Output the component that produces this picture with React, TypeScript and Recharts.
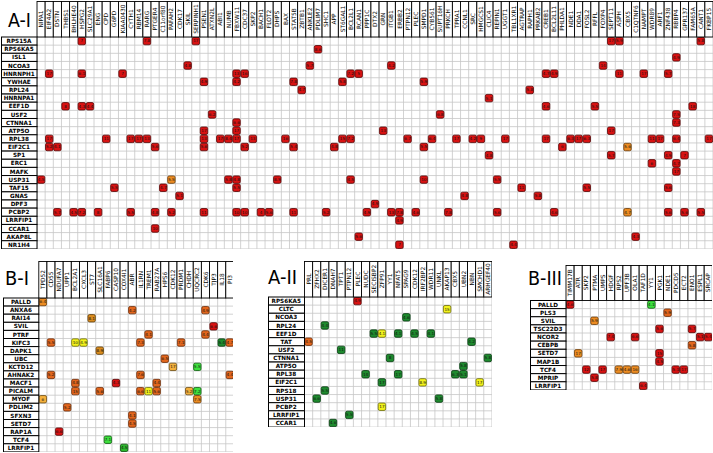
import React from "react";
import { ScatterChart, Scatter, XAxis, YAxis, ReferenceLine } from "recharts";

const FONT = "'DejaVu Sans', sans-serif";

// ---------- A-I ----------
const aiCols = ["NIPA1","EIF4A2","DSTN","THBS1","BHLHE40","HSPG2","SLC29A1","ENG","CPD","G6PD","KIAA0430","CYTH1","RBM14","RARG","PTGER4","C11orf80","PAFAH2","CDK17","SKIL","SERPINH1","PSEN1","ATXN2L","ABI1","NUMB","FBXW11","CDC37","SKP2","BACH1","FLOT2","DHPS","BAX","STAT5B","ZBTB1","ANKLE2","PDLIM7","SHC1","APP","ST6GAL1","BCL2L1","RCAN1","PPP1C","DTX2","GRN","ITGB1","ERBB2","PTPN12","PLEC","SMPD1","CYB561","SUPT16H","PRKCH","TPRA1","CCNL1","SRC","HMGCS1","CLIC4","REPIN1","UGGT1","TBL1XR1","AGTRAP","RAPH1","PRKAB2","CREB1","BCL2L11","PHLDA1","NDE1","DDA1","FOSL2","RFFL","FOXP4","SEPT11","ASPH","CBX5","C1QTNF6","NAMPT","WDR89","ARF1","ZNF438","RBBP4","GPR137","FAM65A","CANT1","FKBP15"];
const aiRows = ["RPS15A","RPS6KA5","ISL1","NCOA3","HNRNPH1","YWHAE","RPL24","HNRNPA1","EEF1D","USF2","CTNNA1","ATP5O","RPL38","EIF2C1","SP1","ERC1","MAFK","USP31","TAF15","GNAS","DPF3","PCBP2","LRRFIP1","CCAR1","AKAP8L","NR1H4"];
const aiCells: [string, string, number, string][] = [
  ["RPS15A","HSPG2",7,"r"],["RPS15A","RARG",7.8,"r"],["RPS15A","SERPINH1",17,"r"],["RPS15A","SEPT11",17,"r"],["RPS15A","ASPH",5.9,"r"],["RPS15A","CANT1",5.8,"r"],
  ["RPS6KA5","PDLIM7",8.6,"r"],
  ["ISL1","RBBP4",4.9,"r"],
  ["NCOA3","SKIL",4.8,"r"],["NCOA3","ANKLE2",5.7,"r"],["NCOA3","ITGB1",4.2,"r"],["NCOA3","FOXP4",14,"r"],
  ["HNRNPH1","EIF4A2",17,"r"],["HNRNPH1","HSPG2",6.1,"r"],["HNRNPH1","KIAA0430",7,"r"],["HNRNPH1","FBXW11",13,"r"],["HNRNPH1","CDC37",16,"r"],["HNRNPH1","BCL2L1",7.2,"r"],["HNRNPH1","RCAN1",5,"r"],["HNRNPH1","CREB1",4.7,"r"],["HNRNPH1","BCL2L11",4.9,"r"],["HNRNPH1","ASPH",11,"r"],["HNRNPH1","NAMPT",17,"r"],["HNRNPH1","ZNF438",5.7,"r"],
  ["YWHAE","PSEN1",4.9,"r"],["YWHAE","FBXW11",4.2,"r"],["YWHAE","STAT5B",7.8,"r"],["YWHAE","ST6GAL1",5.8,"r"],["YWHAE","SMPD1",5.9,"r"],
  ["RPL24","ZBTB1",4.7,"r"],["RPL24","RAPH1",5.8,"r"],
  ["HNRNPA1","CLIC4",5.1,"r"],
  ["EEF1D","THBS1",8,"r"],["EEF1D","HSPG2",4.3,"r"],["EEF1D","SLC29A1",4.4,"r"],["EEF1D","CREB1",4.6,"r"],["EEF1D","RFFL",5.5,"r"],["EEF1D","FAM65A",18,"r"],
  ["USF2","ATXN2L",6.2,"r"],["USF2","SUPT16H",6.8,"r"],["USF2","RBBP4",7.5,"r"],
  ["CTNNA1","FBXW11",6.6,"r"],["CTNNA1","RBBP4",7.3,"r"],
  ["ATP5O","PSEN1",17,"r"],["ATP5O","FBXW11",17,"r"],["ATP5O","GRN",13,"r"],["ATP5O","SEPT11",17,"r"],
  ["RPL38","EIF4A2",17,"r"],["RPL38","CPD",11,"r"],["RPL38","CYTH1",17,"r"],["RPL38","RBM14",17,"r"],["RPL38","RARG",13,"r"],["RPL38","PSEN1",13,"r"],["RPL38","ABI1",17,"r"],["RPL38","NUMB",8.4,"r"],["RPL38","FBXW11",17,"r"],["RPL38","SKP2",13,"r"],["RPL38","BAX",16,"r"],["RPL38","ST6GAL1",15,"r"],["RPL38","BCL2L1",7.2,"r"],["RPL38","PTPN12",6.7,"r"],["RPL38","CYB561",6.4,"r"],["RPL38","TPRA1",17,"r"],["RPL38","SRC",4.2,"r"],["RPL38","HMGCS1",9,"r"],["RPL38","UGGT1",17,"r"],["RPL38","CREB1",17,"r"],["RPL38","NDE1",6.3,"r"],["RPL38","DDA1",17,"r"],["RPL38","FOSL2",6.3,"r"],["RPL38","WDR89",11,"r"],["RPL38","ARF1",17,"r"],["RPL38","RBBP4",6.4,"r"],["RPL38","FKBP15",17,"r"],
  ["EIF2C1","EIF4A2",5.2,"r"],["EIF2C1","DSTN",4.1,"r"],["EIF2C1","PTGER4",5.6,"r"],["EIF2C1","PSEN1",5.6,"r"],["EIF2C1","CDC37",5.2,"r"],["EIF2C1","STAT5B",5.4,"r"],["EIF2C1","APP",4.8,"r"],["EIF2C1","SMPD1",5.5,"r"],["EIF2C1","PHLDA1",6,"r"],["EIF2C1","CBX5",5.6,"o"],
  ["SP1","CLIC4",4.8,"r"],["SP1","SEPT11",5.7,"r"],["SP1","ZNF438",4.9,"r"],["SP1","GPR137",7,"r"],
  ["ERC1","WDR89",6,"r"],["ERC1","RBBP4",4.7,"r"],
  ["MAFK","RBBP4",17,"r"],
  ["USP31","NIPA1",4.5,"r"],["USP31","PAFAH2",5.5,"o"],["USP31","NUMB",5.8,"r"],["USP31","FBXW11",4.8,"r"],["USP31","DHPS",8.5,"r"],["USP31","BCL2L1",4.5,"r"],["USP31","SMPD1",10,"r"],["USP31","REPIN1",5.5,"r"],
  ["TAF15","G6PD",5.5,"r"],["TAF15","C11orf80",4.7,"r"],["TAF15","FBXW11",5.5,"r"],["TAF15","AGTRAP",11,"r"],["TAF15","FOSL2",5.5,"r"],["TAF15","ZNF438",5.6,"r"],
  ["GNAS","CDK17",5.1,"r"],["GNAS","CCNL1",4.8,"r"],["GNAS","PRKAB2",5.8,"r"],
  ["DPF3","DTX2",4.9,"r"],
  ["PCBP2","DSTN",5.7,"r"],["PCBP2","BHLHE40",4.5,"r"],["PCBP2","HSPG2",7.2,"r"],["PCBP2","ENG",8,"r"],["PCBP2","CYTH1",5.5,"r"],["PCBP2","PTGER4",4.8,"r"],["PCBP2","PAFAH2",5.2,"r"],["PCBP2","PSEN1",11,"r"],["PCBP2","FBXW11",10,"r"],["PCBP2","CDC37",10,"r"],["PCBP2","BACH1",4,"r"],["PCBP2","FLOT2",5.6,"r"],["PCBP2","STAT5B",11,"r"],["PCBP2","SHC1",5.2,"r"],["PCBP2","PPP1C",4.9,"r"],["PCBP2","ITGB1",13,"r"],["PCBP2","ERBB2",7.8,"r"],["PCBP2","PLEC",4.6,"r"],["PCBP2","PRKCH",7.8,"r"],["PCBP2","REPIN1",5.6,"r"],["PCBP2","BCL2L11",4.6,"r"],["PCBP2","CBX5",4.7,"o"],["PCBP2","ZNF438",5.6,"r"],["PCBP2","GPR137",5.6,"r"],["PCBP2","CANT1",5.5,"r"],
  ["LRRFIP1","ERBB2",4.9,"r"],
  ["CCAR1","PTGER4",10,"r"],
  ["AKAP8L","RCAN1",5.6,"r"],["AKAP8L","C1QTNF6",4.3,"r"],
  ["NR1H4","ERBB2",7,"r"],["NR1H4","TBL1XR1",4.4,"r"],
];

// ---------- B-I ----------
const biCols = ["TPD52","CD55","NDUFA7","UPP1","BCL2A1","CXCL3","ST7","SLC16A1","FABP6","CASP10","COX4I1","ABR","IL1RN","TREM1","RAB27A","HPS6","CDK12","PRDM1","CHDH","UQCRC2","CDK6","TJP3","IL18","PI3"];
const biRows = ["PALLD","ANXA6","RAI14","SVIL","PTRF","KIFC3","DAPK1","UBC","KCTD12","AHNAK2","MACF1","PICALM","MYOF","PDLIM2","SFXN3","SETD7","RAP1A","TCF4","LRRFIP1"];
const biCells: [string, string, number, string][] = [
  ["PALLD","TPD52",6.4,"o"],
  ["ANXA6","ABR",4.2,"or"],["ANXA6","CDK6",4.9,"or"],
  ["RAI14","ST7",8.1,"ob"],
  ["SVIL","TJP3",6.6,"r"],
  ["PTRF","TREM1",4.1,"or"],["PTRF","CDK6",4.4,"or"],
  ["KIFC3","CD55",5.5,"or"],["KIFC3","BCL2A1",10,"y"],["KIFC3","CXCL3",4.9,"y"],["KIFC3","IL1RN",7.3,"or"],["KIFC3","PRDM1",7.1,"or"],["KIFC3","IL18",5.4,"dg"],["KIFC3","PI3",4.7,"or"],
  ["DAPK1","SLC16A1",8.9,"ob"],
  ["UBC","HPS6",6.5,"or"],
  ["KCTD12","CDK12",17,"lo"],["KCTD12","UQCRC2",5.5,"lg"],
  ["AHNAK2","CD55",5.2,"or"],["AHNAK2","IL1RN",7.6,"or"],["AHNAK2","PI3",4.4,"or"],
  ["MACF1","BCL2A1",4.8,"or"],["MACF1","CASP10",4.3,"r"],["MACF1","RAB27A",4.4,"or"],
  ["PICALM","BCL2A1",15,"or"],["PICALM","SLC16A1",5.6,"or"],["PICALM","IL1RN",6.6,"or"],["PICALM","TREM1",11,"y"],["PICALM","RAB27A",5.6,"or"],["PICALM","CHDH",5.2,"lo"],["PICALM","UQCRC2",7.2,"lg"],
  ["MYOF","TPD52",6,"lo"],["MYOF","UQCRC2",7.5,"o"],
  ["PDLIM2","UPP1",5.2,"or"],
  ["SFXN3","ABR",4.1,"or"],
  ["SETD7","ABR",4.5,"or"],
  ["RAP1A","NDUFA7",6.6,"r"],
  ["TCF4","FABP6",7.1,"lg"],
  ["LRRFIP1","COX4I1",4.5,"g"],
];

// ---------- A-II ----------
const aiiCols = ["PRL","ZFHX2","DICER1","DNAH7","TPT1","PTPN12","PLEC","NUDC","SECISBP2","ZFP91","YY1","NFAT5","SPAG9","CDK12","IRF2BP2","WDR11","UNKL","AKAP13","CBX5","UBN2","NBN","SMCHD1","ARHGEF40"];
const aiiRows = ["RPS6KA5","CLTC","NCOA3","RPL24","EEF1D","TAT","USF2","CTNNA1","ATP5O","RPL38","EIF2C1","RPS18","USP31","PCBP2","LRRFIP1","CCAR1"];
const aiiCells: [string, string, number, string][] = [
  ["RPS6KA5","PLEC",4.9,"r"],
  ["CLTC","AKAP13",15,"y"],
  ["NCOA3","SPAG9",4.6,"dg"],
  ["RPL24","DICER1",4.4,"dg"],
  ["EEF1D","SECISBP2",5.5,"dg"],["EEF1D","ZFP91",4.1,"y"],["EEF1D","NFAT5",4.1,"dg"],["EEF1D","CDK12",4.5,"dg"],["EEF1D","WDR11",4.1,"dg"],
  ["TAT","PRL",4.5,"or"],["TAT","NBN",4.2,"dg"],
  ["USF2","TPT1",11,"dg"],
  ["CTNNA1","YY1",8,"dg"],["CTNNA1","ARHGEF40",5.8,"dg"],
  ["ATP5O","UBN2",5.8,"dg"],
  ["RPL38","NUDC",14,"dg"],["RPL38","NFAT5",17,"dg"],["RPL38","CBX5",6.3,"dg"],["RPL38","UBN2",5.1,"dg"],
  ["EIF2C1","ZFP91",17,"dg"],["EIF2C1","IRF2BP2",8.9,"y"],["EIF2C1","SMCHD1",17,"y"],
  ["RPS18","DICER1",5.5,"dg"],
  ["USP31","ZFHX2",6.6,"dg"],["USP31","UNKL",5.8,"dg"],
  ["PCBP2","ZFP91",17,"y"],
  ["LRRFIP1","PTPN12",5.5,"dg"],
  ["CCAR1","DNAH7",4.6,"dg"],
];

// ---------- B-III ----------
const biiiCols = ["TIMM17B","ATR","SKP2","PTMA","UMPS","HDGF","RPS2","UPF3B","OLA1","TAF1D","YY1","PGK1","NDE1","PDCD5","ECT2","ENO1","ESPL1","SRCAP"];
const biiiRows = ["PALLD","PLS3","SVIL","TSC22D3","NCOR2","CEBPB","SETD7","MAP1B","TCF4","MPRIP","LRRFIP1"];
const biiiCells: [string, string, number, string][] = [
  ["PALLD","TIMM17B",4.6,"r"],["PALLD","YY1",4.1,"lg"],
  ["PLS3","NDE1",5.9,"or"],
  ["SVIL","PTMA",5.9,"o"],
  ["TSC22D3","PGK1",5.6,"r"],["TSC22D3","ENO1",5.7,"r"],
  ["NCOR2","HDGF",7.4,"r"],["NCOR2","OLA1",6.6,"r"],["NCOR2","ESPL1",5.1,"r"],["NCOR2","SRCAP",5.4,"r"],
  ["CEBPB","ENO1",5.8,"or"],
  ["SETD7","ATR",17,"o"],["SETD7","PGK1",15,"r"],
  ["MAP1B","PGK1",4.5,"r"],
  ["TCF4","SKP2",12,"r"],["TCF4","UMPS",17,"r"],["TCF4","RPS2",7.9,"o"],["TCF4","UPF3B",4.6,"o"],["TCF4","OLA1",16,"o"],["TCF4","PDCD5",5.1,"r"],["TCF4","ECT2",17,"r"],
  ["MPRIP","PTMA",5.8,"r"],
  ["LRRFIP1","TAF1D",6.4,"r"],
];

const TONES: Record<string, { fill: string; stroke: string }> = {
  r: { fill: "#d81212", stroke: "#560606" },
  or: { fill: "#e2661c", stroke: "#6a2a08" },
  o: { fill: "#ec8c22", stroke: "#6a3a08" },
  ob: { fill: "#da8c1e", stroke: "#5a3a08" },
  lo: { fill: "#f4b03c", stroke: "#6a4a10" },
  y: { fill: "#f2f21c", stroke: "#6a6a08" },
  lg: { fill: "#3ee03e", stroke: "#0a5a0a" },
  g: { fill: "#2cb82c", stroke: "#0a4a0a" },
  dg: { fill: "#1e8a2e", stroke: "#063a10" },
};

type PanelProps = {
  cols: string[];
  rows: string[];
  cells: [string, string, number, string][];
  left: number;
  top: number;
  labelW: number;
  headerH: number;
  px: number;
  py: number;
};

function Panel({ cols, rows, cells, left, top, labelW, headerH, px, py }: PanelProps) {
  const plotW = cols.length * px;
  const plotH = rows.length * py;
  const W = labelW + plotW;
  const H = headerH + plotH;
  const data = cells.map(([r, c, v, t]) => ({ x: cols.indexOf(c), y: rows.indexOf(r), v, t }));
  const colTicks = cols.map((_, i) => i);
  const rowTicks = rows.map((_, i) => i);
  const cs = Math.min(px, py) - 0.7;

  const XTick = (p: any) => {
    const x = p.x;
    const label = cols[p.payload.value];
    return (
      <g>
        <rect x={x - px / 2} y={0.5} width={px} height={headerH - 0.5} fill="#fff" stroke="#000" strokeWidth={0.9} />
        <text
          transform={`translate(${x + 2.1},${headerH / 2}) rotate(-90)`}
          textAnchor="middle"
          fontSize={5.9}
          fontFamily={FONT}
          fill="#000"
        >
          {label}
        </text>
      </g>
    );
  };

  const YTick = (p: any) => {
    const y = p.y;
    const label = rows[p.payload.value];
    return (
      <g>
        <rect x={0.5} y={y - py / 2} width={labelW - 0.5} height={py} fill="#fff" stroke="#000" strokeWidth={1} />
        <text x={labelW / 2} y={y + 2.1} textAnchor="middle" fontSize={5.7} fontWeight="bold" fontFamily={FONT} fill="#000">
          {label}
        </text>
      </g>
    );
  };

  const CellShape = (p: any) => {
    const { cx, cy, payload } = p;
    const tone = TONES[payload.t];
    return (
      <g>
        <rect x={cx - cs / 2} y={cy - cs / 2} width={cs} height={cs} rx={1.6} fill={tone.fill} stroke={tone.stroke} strokeWidth={0.8} />
        <text x={cx} y={cy + 1.4} textAnchor="middle" fontSize={4.1} fontFamily={FONT} fill="#111">
          {payload.v}
        </text>
      </g>
    );
  };

  return (
    <div style={{ position: "absolute", left, top, width: W, height: H }}>
      <ScatterChart width={W} height={H} margin={{ top: 0, right: 0, bottom: 0, left: 0 }} style={{ overflow: "visible" }}>
        <XAxis
          type="number"
          dataKey="x"
          orientation="top"
          domain={[-0.5, cols.length - 0.5]}
          ticks={colTicks}
          interval={0}
          height={headerH}
          tick={XTick}
          tickLine={false}
          axisLine={false}
          allowDataOverflow
        />
        <YAxis
          type="number"
          dataKey="y"
          reversed
          domain={[-0.5, rows.length - 0.5]}
          ticks={rowTicks}
          interval={0}
          width={labelW}
          tick={YTick}
          tickLine={false}
          axisLine={false}
          allowDataOverflow
        />
        {[...colTicks, cols.length].map((i) => (
          <ReferenceLine key={"v" + i} x={i - 0.5} stroke="#c6c6c6" strokeWidth={0.8} />
        ))}
        {[...rowTicks, rows.length].map((i) => (
          <ReferenceLine key={"h" + i} y={i - 0.5} stroke="#c6c6c6" strokeWidth={0.8} />
        ))}
        <Scatter data={data} shape={CellShape} isAnimationActive={false} />
      </ScatterChart>
    </div>
  );
}

export default function App() {
  return (
    <div style={{ position: "absolute", left: 0, top: 0, width: 713, height: 453, background: "#fff", overflow: "hidden" }}>
      <svg width={713} height={453} style={{ position: "absolute", left: 0, top: 0 }}>
        <text x={19.5} y={27} textAnchor="middle" fontSize={19} fontFamily={FONT} textLength={23} lengthAdjust="spacingAndGlyphs">A-I</text>
        <text x={17} y={285} textAnchor="middle" fontSize={19} fontFamily={FONT} textLength={24} lengthAdjust="spacingAndGlyphs">B-I</text>
        <text x={282.5} y={284} textAnchor="middle" fontSize={19} fontFamily={FONT} textLength={29} lengthAdjust="spacingAndGlyphs">A-II</text>
        <text x={545} y={285} textAnchor="middle" fontSize={19} fontFamily={FONT} textLength={34} lengthAdjust="spacingAndGlyphs">B-III</text>
      </svg>
      <Panel cols={aiCols} rows={aiRows} cells={aiCells} left={1} top={1} labelW={36} headerH={36} px={8.145} py={8.15} />
      <Panel cols={biCols} rows={biRows} cells={biCells} left={2.5} top={261} labelW={35.8} headerH={37} px={8.13} py={8.1} />
      <Panel cols={aiiCols} rows={aiiRows} cells={aiiCells} left={268} top={261} labelW={36.5} headerH={36} px={8.15} py={8.13} />
      <Panel cols={biiiCols} rows={biiiRows} cells={biiiCells} left={530} top={265} labelW={36} headerH={35.5} px={8.13} py={8.13} />
    </div>
  );
}
